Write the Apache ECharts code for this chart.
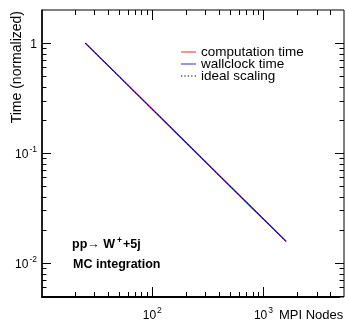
<!DOCTYPE html>
<html>
<head>
<meta charset="utf-8">
<script src="https://cdn.jsdelivr.net/npm/echarts@6/dist/echarts.min.js"></script>
<style>html,body{margin:0;padding:0;background:#fff}#c{width:345px;height:326px}</style>
</head>
<body>
<div id="c"></div>
<script>
const nodes = [25, 50, 100, 200, 400, 800, 1600];
const computationTime = [1, 0.5, 0.25, 0.125, 0.0625, 0.0313, 0.0157];
const wallclockTime = [1, 0.5, 0.251, 0.1252, 0.0626, 0.0313, 0.0157];
const idealScaling = [1, 0.5, 0.25, 0.125, 0.0625, 0.03125, 0.015625];
const seriesNames = ['computation time', 'wallclock time', 'ideal scaling'];
const xRange = [10.2, 4800];
const yRange = [0.0049, 2];
const xMajor = [100, 1000];
const xMinor = [20,30,40,50,60,70,80,90,200,300,400,500,600,700,800,900,2000,3000,4000];
const yMajor = [0.01, 0.1, 1];
const yMinor = [0.005,0.006,0.007,0.008,0.009,0.02,0.03,0.04,0.05,0.06,0.07,0.08,0.09,0.2,0.3,0.4,0.5,0.6,0.7,0.8,0.9];

const FONT = '"Liberation Sans", Arial, Helvetica, sans-serif';
const COLORS = ['#ff2020', '#2020ff', '#000000'];
const SOLID_ICON = 'path://M0,0h15v1.3h-15z';
const DOT_ICON = 'path://M0,0h1.3v1.3h-1.3zM3.4,0h1.3v1.3h-1.3zM6.8,0h1.3v1.3h-1.3zM10.2,0h1.3v1.3h-1.3zM13.7,0h1.3v1.3h-1.3z';

function pow10Label(v) {
  const l = Math.log10(v);
  const n = Math.round(l);
  if (Math.abs(l - n) > 1e-6) return '';
  if (n === 0) return '{b|1}';
  return '{b|10}{s|' + n + '}';
}
const rich = {
  b: {fontSize: 12, fontFamily: FONT, color: '#000', lineHeight: 16, verticalAlign: 'bottom'},
  s: {fontSize: 8.5, fontFamily: FONT, color: '#000', lineHeight: 16, verticalAlign: 'top', padding: [0,0,0,1]}
};
function pairs(ys) { return nodes.map((x, i) => [x, ys[i]]); }

const chart = echarts.init(document.getElementById('c'), null, {renderer: 'canvas'});
const option = {
  animation: false,
  grid: {left: 42, top: 10, right: 1, bottom: 29, containLabel: false},
  xAxis: {
    type: 'log', min: xRange[0], max: xRange[1], logBase: 10,
    axisLine: {lineStyle: {color: '#000', width: 2}},
    axisTick: {show: false}, splitLine: {show: false}, minorTick: {show: false},
    axisLabel: {formatter: pow10Label, rich: rich, margin: 9, showMinLabel: false, showMaxLabel: false},
    name: 'MPI Nodes', nameLocation: 'end', nameGap: -1,
    nameTextStyle: {fontFamily: FONT, fontSize: 13, color: '#000', align: 'right', verticalAlign: 'top', padding: [12, 0, 0, 0]}
  },
  yAxis: {
    type: 'log', min: yRange[0], max: yRange[1], logBase: 10,
    axisLine: {lineStyle: {color: '#000', width: 1.5}},
    axisTick: {show: false}, splitLine: {show: false}, minorTick: {show: false},
    axisLabel: {formatter: pow10Label, rich: rich, margin: 5, showMinLabel: false, showMaxLabel: false},
    name: 'Time (normalized)', nameLocation: 'end', nameGap: -1, nameRotate: 90,
    nameTextStyle: {fontFamily: FONT, fontSize: 14, color: '#000', align: 'right', verticalAlign: 'bottom', padding: [0, 0, 18, 0]}
  },
  legend: {
    orient: 'vertical', left: 176, top: 40, itemWidth: 15, itemHeight: 10, itemGap: -2,
    textStyle: {fontFamily: FONT, fontSize: 13.5, color: '#000', lineHeight: 12},
    data: [
      {name: seriesNames[0], icon: SOLID_ICON, itemStyle: {color: COLORS[0], opacity: 0.75}},
      {name: seriesNames[1], icon: SOLID_ICON, itemStyle: {color: COLORS[1], opacity: 0.75}},
      {name: seriesNames[2], icon: DOT_ICON, itemStyle: {color: '#444', opacity: 0.9}}
    ]
  },
  series: [
    {name: seriesNames[0], type: 'line', data: pairs(computationTime), showSymbol: false, symbol: 'none',
     lineStyle: {color: COLORS[0], width: 1.2}, itemStyle: {color: COLORS[0]}},
    {name: seriesNames[1], type: 'line', data: pairs(wallclockTime), showSymbol: false, symbol: 'none',
     lineStyle: {color: COLORS[1], width: 1.2}, itemStyle: {color: COLORS[1]}},
    {name: seriesNames[2], type: 'line', data: pairs(idealScaling), showSymbol: false, symbol: 'none',
     lineStyle: {color: COLORS[2], width: 1, type: [1.5, 2]}, itemStyle: {color: COLORS[2]}}
  ]
};
chart.setOption(option);

function buildGraphics() {
  const g = [];
  const L = 42, T = 10, R = 344, B = 297;
  g.push({type: 'rect', shape: {x: L, y: T, width: R - L, height: B - T}, style: {fill: 'none', stroke: '#000', lineWidth: 1}, silent: true});
  function tickX(v, len) {
    const x = Math.round(chart.convertToPixel({xAxisIndex: 0}, v)) + 0.5;
    g.push({type: 'line', shape: {x1: x, y1: B, x2: x, y2: B - len}, style: {stroke: '#000', lineWidth: 1}, silent: true});
    g.push({type: 'line', shape: {x1: x, y1: T, x2: x, y2: T + len}, style: {stroke: '#000', lineWidth: 1}, silent: true});
  }
  function tickY(v, len) {
    const y = Math.round(chart.convertToPixel({yAxisIndex: 0}, v)) + 0.5;
    g.push({type: 'line', shape: {x1: L, y1: y, x2: L + len, y2: y}, style: {stroke: '#000', lineWidth: 1}, silent: true});
    g.push({type: 'line', shape: {x1: R, y1: y, x2: R - len, y2: y}, style: {stroke: '#000', lineWidth: 1}, silent: true});
  }
  xMajor.forEach(v => tickX(v, 10));
  xMinor.forEach(v => tickX(v, 5));
  yMajor.forEach(v => tickY(v, 9));
  yMinor.forEach(v => tickY(v, 4.5));
  g.push({type: 'text', left: 72, top: 236, silent: true,
    style: {text: '{a|pp\u2192 W}{s|+}{a|+5j}', rich: {
      a: {fontFamily: FONT, fontSize: 12.5, fontWeight: 'bold', fill: '#000', lineHeight: 15, verticalAlign: 'bottom'},
      s: {fontFamily: FONT, fontSize: 8.5, fontWeight: 'bold', fill: '#000', lineHeight: 15, verticalAlign: 'top', padding: [0, 1, 0, 2]}
    }}});
  g.push({type: 'text', left: 73, top: 258, silent: true,
    style: {text: 'MC integration', fontFamily: FONT, fontSize: 12.5, fontWeight: 'bold', fill: '#000'}});
  chart.setOption({graphic: g});
}
buildGraphics();
</script>
</body>
</html>
